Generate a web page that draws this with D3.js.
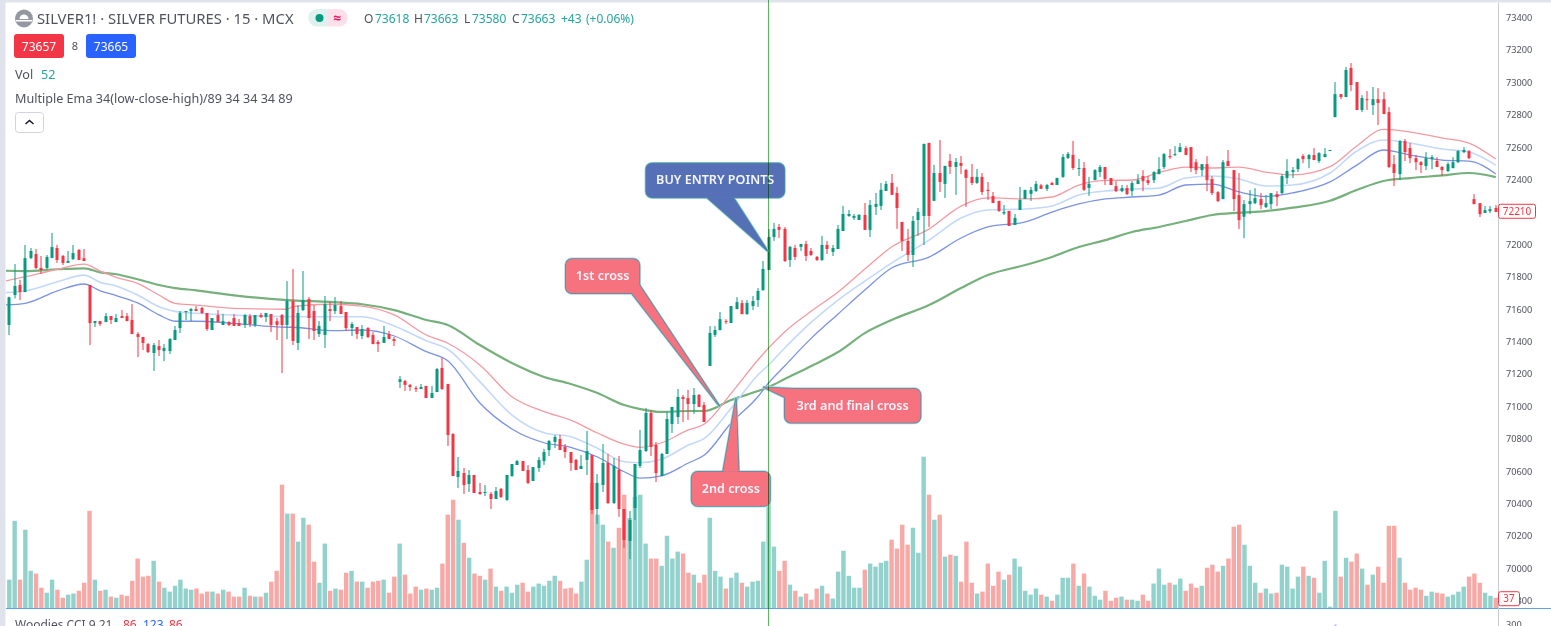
<!DOCTYPE html>
<html>
<head>
<meta charset="utf-8">
<style>
    html, body { margin: 0; padding: 0; background: #fff; overflow: hidden; }
    svg { display: block; }
    text { font-family: "Noto Sans", "Open Sans", sans-serif; }
    .axis text { font-size: 9.2px; fill: #50535e; }
    .axis path, .axis line { display: none; }
    .crosshair { mix-blend-mode: multiply; }
</style>
</head>
<body>
<svg width="1551" height="626"></svg>
<script src="https://d3js.org/d3.v7.min.js"></script>
<script>
    // candles (15 min bars, left to right)
    const opens = [
        71502,71687,71749,71705,71915,71940,71854,71854,71915,71977,
        71928,71885,71909,71965,71915,71749,71514,71526,71520,71557,
        71520,71557,71557,71533,71446,71428,71384,71329,71372,71341,
        71341,71409,71483,71582,71588,71600,71607,71576,71471,71563,
        71502,71520,71545,71514,71502,71557,71502,71563,71551,71570,
        71526,71563,71502,71650,71391,71594,71662,71588,71446,71440,
        71600,71588,71619,71582,71483,71489,71434,71483,71440,71397,
        71391,71446,71415,71150,71156,71132,71113,71107,71126,71051,
        71088,71237,71138,70829,70564,70588,70520,70576,70471,70465,
        70459,70428,70490,70422,70570,70638,70662,70607,70539,70619,
        70662,70730,70780,70798,70749,70718,70669,70613,70669,70699,
        70366,70514,70650,70403,70607,70366,70169,70372,70632,70724,
        70959,70761,70570,70706,70891,70934,71058,71051,71014,71070,
        71008,71249,71440,71470,71526,71514,71600,71637,71570,71619,
        71656,71718,71841,72045,72107,72095,71903,71977,71984,72002,
        71959,71922,71903,71996,71953,71971,72082,72175,72163,72150,
        72181,72089,72231,72237,72329,72379,72317,72138,72021,71934,
        72150,72175,72626,72268,72440,72373,72515,72478,72502,72459,
        72416,72379,72416,72336,72298,72268,72191,72206,72119,72212,
        72280,72311,72329,72364,72342,72379,72366,72416,72533,72552,
        72465,72471,72348,72396,72446,72477,72409,72359,72328,72347,
        72328,72372,72421,72396,72396,72433,72477,72545,72551,72569,
        72594,72600,72507,72458,72495,72403,72322,72279,72514,72458,
        72304,72170,72248,72254,72279,72230,72248,72310,72316,72409,
        72446,72464,72545,72526,72551,72514,72538,72578,72785,72927,
        72909,73088,73001,72829,72896,72859,72896,72896,72816,72495,
        72433,72637,72594,72532,72507,72483,72526,72514,72477,72452,
        72470,72507,72569,72575,72279,72254,72193,72205,72224
    ];
    const highs = [
        71677,71878,71780,71996,71977,71971,71928,71934,72070,71996,
        71934,71959,71996,71971,71971,71749,71526,71526,71576,71557,
        71570,71594,71576,71631,71458,71428,71391,71391,71409,71384,
        71421,71496,71588,71588,71607,71619,71613,71576,71545,71594,
        71570,71526,71570,71539,71570,71570,71563,71576,71576,71570,
        71545,71570,71773,71847,71625,71835,71675,71625,71526,71681,
        71644,71675,71650,71582,71520,71489,71502,71489,71458,71409,
        71496,71465,71428,71187,71163,71138,71126,71138,71126,71126,
        71237,71298,71138,70835,70687,70619,70607,70576,70527,70514,
        70471,70502,70496,70576,70644,70669,70662,70638,70625,70687,
        70737,70792,70823,70823,70767,70718,70675,70699,70848,70699,
        70582,70767,70706,70681,70693,70366,70354,70644,70854,70990,
        70977,70780,70712,70965,70996,71107,71070,71101,71113,71076,
        71027,71495,71495,71582,71538,71619,71674,71656,71656,71681,
        71730,71897,72094,72132,72126,72107,71990,71996,72002,72021,
        71977,71928,72052,72021,71996,72119,72237,72212,72187,72187,
        72255,72274,72317,72379,72391,72434,72354,72138,72095,72175,
        72224,72620,72626,72490,72644,72484,72558,72533,72545,72465,
        72496,72465,72440,72385,72323,72268,72243,72206,72187,72354,
        72336,72354,72391,72373,72373,72385,72410,72558,72570,72638,
        72527,72508,72416,72464,72489,72477,72409,72390,72366,72366,
        72390,72433,72458,72421,72452,72538,72563,72588,72606,72625,
        72606,72600,72526,72495,72544,72421,72328,72520,72582,72458,
        72440,72273,72335,72347,72316,72304,72316,72328,72433,72526,
        72477,72532,72557,72557,72594,72569,72594,72583,73001,72927,
        73094,73119,73001,72921,72946,72971,72964,72940,72847,72551,
        72643,72650,72625,72551,72514,72569,72551,72538,72483,72507,
        72538,72582,72600,72582,72310,72254,72236,72236,72242
    ];
    const lows = [
        71440,71666,71656,71705,71909,71847,71817,71847,71915,71885,
        71872,71885,71903,71903,71897,71378,71489,71496,71520,71508,
        71520,71545,71526,71446,71304,71347,71329,71218,71310,71279,
        71323,71409,71452,71533,71526,71588,71570,71465,71471,71520,
        71502,71496,71496,71496,71483,71489,71489,71545,71520,71458,
        71409,71205,71415,71378,71347,71588,71415,71409,71428,71360,
        71526,71570,71570,71465,71434,71415,71415,71421,71384,71335,
        71391,71415,71372,71113,71095,71095,71088,71107,71051,71051,
        71088,71101,70755,70570,70496,70459,70471,70465,70453,70446,
        70366,70428,70434,70416,70564,70638,70601,70520,70539,70595,
        70638,70693,70743,70730,70681,70601,70607,70613,70576,70335,
        70274,70471,70397,70397,70317,70125,70057,70298,70619,70718,
        70693,70533,70570,70706,70835,70891,70903,70916,70953,70996,
        70903,71249,71428,71470,71507,71514,71600,71569,71564,71595,
        71613,71712,71841,72021,72039,71891,71860,71903,71959,71897,
        71928,71897,71897,71940,71928,71971,72082,72169,72150,72150,
        72089,72045,72181,72212,72329,72305,72095,71959,71897,71860,
        72052,71996,72107,72268,72323,72286,72434,72305,72434,72231,
        72366,72373,72305,72274,72255,72200,72181,72113,72119,72212,
        72280,72268,72323,72342,72329,72366,72366,72410,72527,72459,
        72422,72329,72299,72396,72415,72366,72366,72322,72322,72304,
        72298,72372,72328,72366,72378,72433,72464,72526,72545,72569,
        72551,72446,72433,72421,72328,72304,72261,72279,72483,72205,
        72094,72038,72186,72248,72217,72224,72217,72236,72310,72372,
        72409,72446,72501,72470,72520,72501,72538,72577,72785,72896,
        72909,72946,72829,72816,72829,72798,72736,72804,72470,72359,
        72396,72514,72501,72458,72440,72458,72464,72477,72421,72446,
        72470,72501,72563,72526,72248,72168,72193,72193,72199
    ];
    const closes = [
        71673,71743,71705,71915,71959,71854,71841,71922,71983,71903,
        71885,71897,71946,71903,71897,71514,71526,71508,71557,71533,
        71545,71545,71526,71446,71428,71391,71335,71378,71347,71360,
        71415,71471,71576,71588,71600,71588,71576,71477,71545,71520,
        71526,71502,71496,71496,71563,71508,71563,71551,71576,71502,
        71502,71502,71650,71403,71576,71656,71545,71465,71496,71631,
        71588,71625,71570,71483,71508,71446,71477,71428,71384,71384,
        71428,71415,71403,71167,71132,71119,71105,71119,71051,71082,
        71230,71107,70823,70570,70601,70514,70576,70465,70459,70471,
        70428,70477,70440,70576,70644,70662,70601,70527,70625,70669,
        70718,70786,70811,70730,70718,70650,70607,70632,70724,70360,
        70527,70650,70403,70632,70366,70175,70298,70644,70730,70959,
        70749,70588,70706,70922,70996,71058,71045,71014,71070,70996,
        70903,71453,71471,71538,71520,71619,71643,71569,71638,71650,
        71712,71848,72045,72095,72089,71897,71984,71922,72002,71928,
        71934,71903,71996,71971,71977,72095,72187,72187,72175,72181,
        72089,72243,72249,72336,72373,72305,72224,72021,71934,72144,
        72200,72620,72175,72440,72385,72484,72478,72508,72484,72410,
        72379,72416,72323,72329,72255,72206,72200,72113,72163,72274,
        72336,72336,72373,72342,72366,72366,72410,72539,72558,72471,
        72471,72336,72373,72458,72477,72403,72366,72328,72347,72310,
        72378,72396,72390,72378,72446,72464,72557,72538,72557,72600,
        72551,72470,72458,72495,72396,72316,72267,72507,72483,72279,
        72149,72248,72267,72285,72242,72254,72316,72291,72421,72452,
        72458,72526,72526,72551,72520,72563,72557,72582,72927,72909,
        73076,72983,72829,72903,72890,72896,72872,72804,72477,72440,
        72637,72569,72532,72507,72489,72532,72538,72477,72458,72495,
        72507,72575,72582,72532,72248,72186,72211,72217,72200
    ];
    const volumes = [
        102,314,102,282,134,124,73,55,102,66,
        37,48,52,62,91,350,102,62,66,41,
        37,48,44,98,178,113,116,170,95,73,
        59,80,102,70,66,70,52,59,59,52,
        66,59,41,41,73,44,41,41,55,95,
        134,444,340,340,239,325,300,167,91,232,
        62,70,66,127,134,95,95,73,95,98,
        102,55,113,232,120,52,77,66,70,66,
        73,160,336,390,318,235,181,124,116,102,
        142,77,62,77,55,84,91,59,77,88,
        80,98,116,98,70,73,52,95,174,450,
        336,300,239,217,289,408,324,400,408,232,
        178,178,152,260,178,203,196,127,120,91,
        120,325,134,113,70,109,127,91,77,95,
        98,239,396,221,134,170,84,62,41,52,
        30,70,80,52,34,131,206,116,73,73,
        138,160,149,163,170,246,214,300,228,289,
        199,545,408,318,336,185,192,188,95,239,
        91,52,59,160,80,131,102,120,178,149,
        62,48,70,48,41,26,48,109,109,160,
        80,124,77,44,30,62,26,37,41,30,
        30,26,48,26,88,142,84,91,84,106,
        62,88,73,80,145,156,131,152,178,293,
        300,228,152,91,55,70,52,55,156,149,
        70,113,149,116,109,55,170,5,350,113,
        181,167,196,142,84,120,149,91,296,296,
        181,91,66,73,66,44,59,55,52,41,
        48,59,77,113,124,91,55,44,37
    ];

    // the four moving averages, read at these bar numbers
    const emaBars = [-1,3,9,14,17,20,24,28,31,35,42,52,53,60,66,72,78,82,88,94,100,105,110,115,118,122,127,130,135,140,142,145,150,155,160,165,172,178,183,190,195,200,205,210,215,220,225,230,235,240,247,252,257,262,268,273,278];
    const ema89 = [71837,71835,71846,71852,71827,71815,71784,71749,71730,71716,71685,71656,71654,71644,71630,71594,71533,71502,71378,71267,71181,71138,71082,71008,70983,70965,70971,70971,71039,71094,71119,71168,71249,71335,71452,71533,71625,71730,71810,71872,71922,71983,72026,72076,72107,72144,72181,72195,72205,72226,72269,72335,72391,72409,72425,72440,72415];
    const emaLow = [71625,71636,71713,71755,71713,71683,71638,71564,71525,71525,71512,71488,71488,71467,71471,71434,71337,71281,71020,70860,70775,70747,70687,70596,70557,70571,70650,70699,70897,71059,71144,71249,71421,71570,71718,71854,71921,72039,72107,72138,72199,72249,72280,72292,72304,72366,72372,72323,72295,72317,72385,72489,72582,72551,72520,72514,72434];
    const emaClose = [71701,71713,71769,71810,71765,71743,71687,71615,71586,71574,71563,71553,71553,71553,71553,71496,71405,71352,71152,70946,70837,70812,70741,70658,70652,70673,70761,70802,70988,71193,71255,71360,71520,71656,71773,71884,72026,72162,72212,72218,72236,72304,72329,72341,72347,72409,72422,72403,72360,72366,72440,72576,72644,72625,72588,72570,72489];
    const emaHigh = [71771,71800,71846,71878,71835,71796,71759,71687,71636,71625,71605,71599,71615,71630,71619,71564,71440,71389,71255,71059,70967,70915,70835,70767,70747,70775,70854,70891,71080,71286,71360,71459,71588,71705,71847,71983,72094,72236,72286,72280,72292,72366,72394,72397,72443,72477,72471,72477,72446,72428,72479,72607,72709,72693,72656,72625,72526];

    // 72200 sits behind the last price tag, 69800 half behind the volume tag
    const priceTicks = [69800,70000,70200,70400,70600,70800,71000,71200,71400,71600,71800,72000,72400,72600,72800,73000,73200,73400];
    const lastPrice = 72210;
    const lastVolume = 37;
    const crosshairBar = 142;

    // bar number and price where each callout points
    const calloutLabels = ["BUY ENTRY POINTS", "1st cross", "2nd cross", "3rd and final cross"];
    const calloutBars = [141.8, 132.8, 135.9, 141.1];
    const calloutPrices = [71960, 71002, 71049, 71117];

    const width = 1551, height = 626,
        chartLeft = 6, axisX = 1498, paneBottom = 608;

    const svg = d3.select("svg");

    const x = d3.scaleLinear().domain([0, 278]).range([9.3, 1495.8]);
    const y = d3.scaleLinear().domain([70000, 73400]).range([568.3, 17.5]);
    const yVol = d3.scaleLinear().domain([0, 560]).range([paneBottom, paneBottom - 155.5]);

    svg.append("rect").attr("width", width).attr("height", height).attr("fill", "#fff");

    svg.append("clipPath").attr("id", "pane")
        .append("rect")
        .attr("x", chartLeft).attr("y", 3)
        .attr("width", axisX - chartLeft).attr("height", paneBottom - 3);

    // window frame
    svg.append("rect").attr("width", 5.5).attr("height", height).attr("fill", "#e0e3eb");
    svg.append("rect").attr("width", width).attr("height", 2.5).attr("fill", "#e0e3eb");

    const pane = svg.append("g").attr("clip-path", "url(#pane)");

    const bars = d3.range(volumes.length);
    const isUp = i => closes[i] >= opens[i];

    // volume
    pane.append("g").selectAll("rect")
        .data(bars)
        .join("rect")
        .attr("x", i => x(i) - 2.2)
        .attr("width", 4.4)
        .attr("y", i => yVol(volumes[i]))
        .attr("height", i => paneBottom - yVol(volumes[i]))
        .attr("fill", i => isUp(i) ? "#92d2cc" : "#f7a9a7");

    // moving averages
    const emaLine = values => d3.line()
        .x((d, k) => x(emaBars[k]))
        .y(d => y(d))
        .curve(d3.curveMonotoneX)(values);

    const emaSeries = [
        { values: ema89, color: "#76b07c", w: 2.2 },
        { values: emaHigh, color: "#f59aa3", w: 1.3 },
        { values: emaClose, color: "#c3d9fb", w: 1.6 },
        { values: emaLow, color: "#7a93e2", w: 1.3 }
    ];
    pane.append("g").selectAll("path")
        .data(emaSeries)
        .join("path")
        .attr("d", d => emaLine(d.values))
        .attr("fill", "none")
        .attr("stroke", d => d.color)
        .attr("stroke-width", d => d.w);

    // candles
    const candle = pane.append("g").selectAll("g")
        .data(bars)
        .join("g")
        .attr("fill", i => isUp(i) ? "#089981" : "#f23645");

    candle.append("rect")
        .attr("x", i => Math.round(x(i)) - 0.5)
        .attr("width", 1)
        .attr("y", i => y(highs[i]))
        .attr("height", i => y(lows[i]) - y(highs[i]));

    candle.append("rect")
        .attr("x", i => Math.round(x(i)) - 1.5)
        .attr("width", 3)
        .attr("y", i => y(Math.max(opens[i], closes[i])))
        .attr("height", i => Math.max(1, Math.abs(y(opens[i]) - y(closes[i]))));

    // blue separator under the volume pane
    svg.append("line")
        .attr("x1", chartLeft).attr("x2", width)
        .attr("y1", paneBottom + 0.5).attr("y2", paneBottom + 0.5)
        .attr("stroke", "#64a0f0");

    // price axis
    svg.append("line")
        .attr("x1", axisX + 0.5).attr("x2", axisX + 0.5)
        .attr("y1", 3).attr("y2", height)
        .attr("stroke", "#c8cad0");

    svg.append("g")
        .attr("class", "axis")
        .attr("transform", "translate(" + axisX + ",0)")
        .call(d3.axisRight(y).tickValues(priceTicks).tickSize(0).tickPadding(8).tickFormat(d3.format("d")));

    function tag(yPos, w, label) {
        const g = svg.append("g").attr("transform", "translate(" + axisX + "," + yPos + ")");
        g.append("rect")
            .attr("x", 0.5).attr("y", -7).attr("width", w).attr("height", 14).attr("rx", 2)
            .attr("fill", "#fff").attr("stroke", "#f23645");
        g.append("text")
            .attr("x", w / 2 + 0.5).attr("y", 3.5)
            .attr("text-anchor", "middle").attr("font-size", 10).attr("fill", "#f23645")
            .text(label);
    }
    tag(y(lastPrice) + 1, 37, lastPrice);
    tag(yVol(lastVolume) + 1, 21, lastVolume);

    // CCI pane, only the top of it fits
    svg.append("text").attr("x", 1506).attr("y", 628).attr("font-size", 9.2).attr("fill", "#50535e").text("300");
    svg.append("rect").attr("x", 1334.5).attr("y", 624.5).attr("width", 2).attr("height", 2).attr("fill", "#b2b5e8");

    const woodies = svg.append("g").attr("font-size", 12).attr("fill", "#50535e");
    woodies.append("text").attr("x", 15).attr("y", 629).text("Woodies CCI 9 21");
    woodies.append("text").attr("x", 123).attr("y", 629).attr("fill", "#f23645").text("86");
    woodies.append("text").attr("x", 143).attr("y", 629).attr("fill", "#2962ff").text("123");
    woodies.append("text").attr("x", 169).attr("y", 629).attr("fill", "#f23645").text("86");

    // legend block, top left
    const icon = svg.append("g").attr("transform", "translate(24,18.5)");
    icon.append("circle").attr("r", 9).attr("fill", "#9598a1");
    icon.append("path").attr("d", d3.arc()({ innerRadius: 0, outerRadius: 4.5, startAngle: -Math.PI / 2, endAngle: Math.PI / 2 })).attr("fill", "#fff").attr("transform", "translate(0,0.5)");
    icon.append("rect").attr("x", -8).attr("y", 1.5).attr("width", 16).attr("height", 1.5).attr("fill", "#fff");

    svg.append("text").attr("x", 37).attr("y", 24).attr("font-size", 14.8).attr("fill", "#50535e")
        .text("SILVER1! · SILVER FUTURES · 15 · MCX");

    // market status pill
    svg.append("path").attr("d", "M328,9H317a8.8,8.8 0 0 0 0,17.6H328Z").attr("fill", "#dff1ee");
    svg.append("path").attr("d", "M328,9H339a8.8,8.8 0 0 1 0,17.6H328Z").attr("fill", "#fde0ea");
    svg.append("circle").attr("cx", 319.5).attr("cy", 18).attr("r", 4).attr("fill", "#089981");
    svg.append("text").attr("x", 337).attr("y", 23).attr("text-anchor", "middle").attr("font-size", 14).attr("font-weight", 700).attr("fill", "#e91e63").text("≈");

    const ohlcLabels = ["O", "H", "L", "C"];
    const ohlcValues = ["73618", "73663", "73580", "73663"];
    const ohlcLabelX = [364, 414, 464, 512];
    const ohlcValueX = [375, 424, 472, 521];
    ohlcLabels.forEach((s, k) => {
        svg.append("text").attr("x", ohlcLabelX[k]).attr("y", 23).attr("font-size", 12).attr("fill", "#50535e").text(s);
        svg.append("text").attr("x", ohlcValueX[k]).attr("y", 23).attr("font-size", 12).attr("fill", "#26a69a").text(ohlcValues[k]);
    });
    svg.append("text").attr("x", 561).attr("y", 23).attr("font-size", 12).attr("fill", "#26a69a").text("+43");
    svg.append("text").attr("x", 586).attr("y", 23).attr("font-size", 12).attr("fill", "#26a69a").text("(+0.06%)");

    function priceButton(left, color, label) {
        svg.append("rect").attr("x", left).attr("y", 34).attr("width", 50).attr("height", 24).attr("rx", 3).attr("fill", color);
        svg.append("text").attr("x", left + 25).attr("y", 51).attr("text-anchor", "middle").attr("font-size", 12).attr("fill", "#fff").text(label);
    }
    priceButton(14, "#f23645", "73657");
    priceButton(86, "#2962ff", "73665");
    svg.append("text").attr("x", 75).attr("y", 50).attr("text-anchor", "middle").attr("font-size", 11).attr("fill", "#50535e").text("8");

    svg.append("text").attr("x", 15).attr("y", 79).attr("font-size", 12.6).attr("fill", "#50535e").text("Vol");
    svg.append("text").attr("x", 41).attr("y", 79).attr("font-size", 12.6).attr("fill", "#26a69a").text("52");
    svg.append("text").attr("x", 15).attr("y", 103).attr("font-size", 12.6).attr("fill", "#50535e")
        .text("Multiple Ema 34(low-close-high)/89 34 34 34 89");

    svg.append("rect").attr("x", 15.5).attr("y", 112.5).attr("width", 28).attr("height", 20).attr("rx", 3)
        .attr("fill", "#fff").attr("stroke", "#d1d4dc");
    svg.append("path").attr("d", "M25.5,124L29.5,120.5L33.5,124").attr("fill", "none").attr("stroke", "#131722").attr("stroke-width", 1.4);

    // callouts, box and pointer base are placed relative to the tip
    const calloutStyle = [
        { dx: -121.5, dy: -87.4, w: 138.3, h: 34, base: [[-60.6, -53.4], [-34.3, -53.4]], fill: "#5570b6" },
        { dx: -153.6, dy: -147, w: 73.6, h: 34.3, base: [[-87.6, -112.7], [-80, -121]], fill: "#f7727f" },
        { dx: -44.3, dy: 73.4, w: 78.3, h: 34.3, base: [[-13, 73.4], [2.7, 73.4]], fill: "#f7727f" },
        { dx: 21, dy: 1.4, w: 135.7, h: 34, base: [[21, 10], [28, 1.4]], fill: "#f7727f" }
    ];

    const callouts = svg.append("g").selectAll("g")
        .data(calloutLabels)
        .join("g")
        .attr("transform", (d, k) => "translate(" + x(calloutBars[k]) + "," + y(calloutPrices[k]) + ")");

    const pointer = (d, k) => "M0,0L" + calloutStyle[k].base.join("L") + "Z";

    function calloutShapes(stroke, w, fillIt) {
        callouts.append("path")
            .attr("d", pointer)
            .attr("fill", (d, k) => fillIt ? calloutStyle[k].fill : "none")
            .attr("stroke", stroke).attr("stroke-width", w).attr("stroke-linejoin", "round");
        callouts.append("rect")
            .attr("x", (d, k) => calloutStyle[k].dx)
            .attr("y", (d, k) => calloutStyle[k].dy)
            .attr("width", (d, k) => calloutStyle[k].w)
            .attr("height", (d, k) => calloutStyle[k].h)
            .attr("rx", 6)
            .attr("fill", (d, k) => fillIt ? calloutStyle[k].fill : "none")
            .attr("stroke", stroke).attr("stroke-width", w);
    }
    calloutShapes("#a8dde3", 3, false);
    calloutShapes("#4f8fa3", 1.6, false);
    calloutShapes("none", 0, true);

    callouts.append("text")
        .attr("x", (d, k) => calloutStyle[k].dx + calloutStyle[k].w / 2)
        .attr("y", (d, k) => calloutStyle[k].dy + calloutStyle[k].h / 2 + 4)
        .attr("text-anchor", "middle")
        .attr("font-size", 12.6)
        .attr("font-weight", 600)
        .attr("fill", "#f5f6fb")
        .text(d => d);

    // crosshair goes over everything
    svg.append("line")
        .attr("class", "crosshair")
        .attr("x1", Math.floor(x(crosshairBar)) + 0.5).attr("x2", Math.floor(x(crosshairBar)) + 0.5)
        .attr("y1", 0).attr("y2", height)
        .attr("stroke", "#5cb85c");
</script>
</body>
</html>
